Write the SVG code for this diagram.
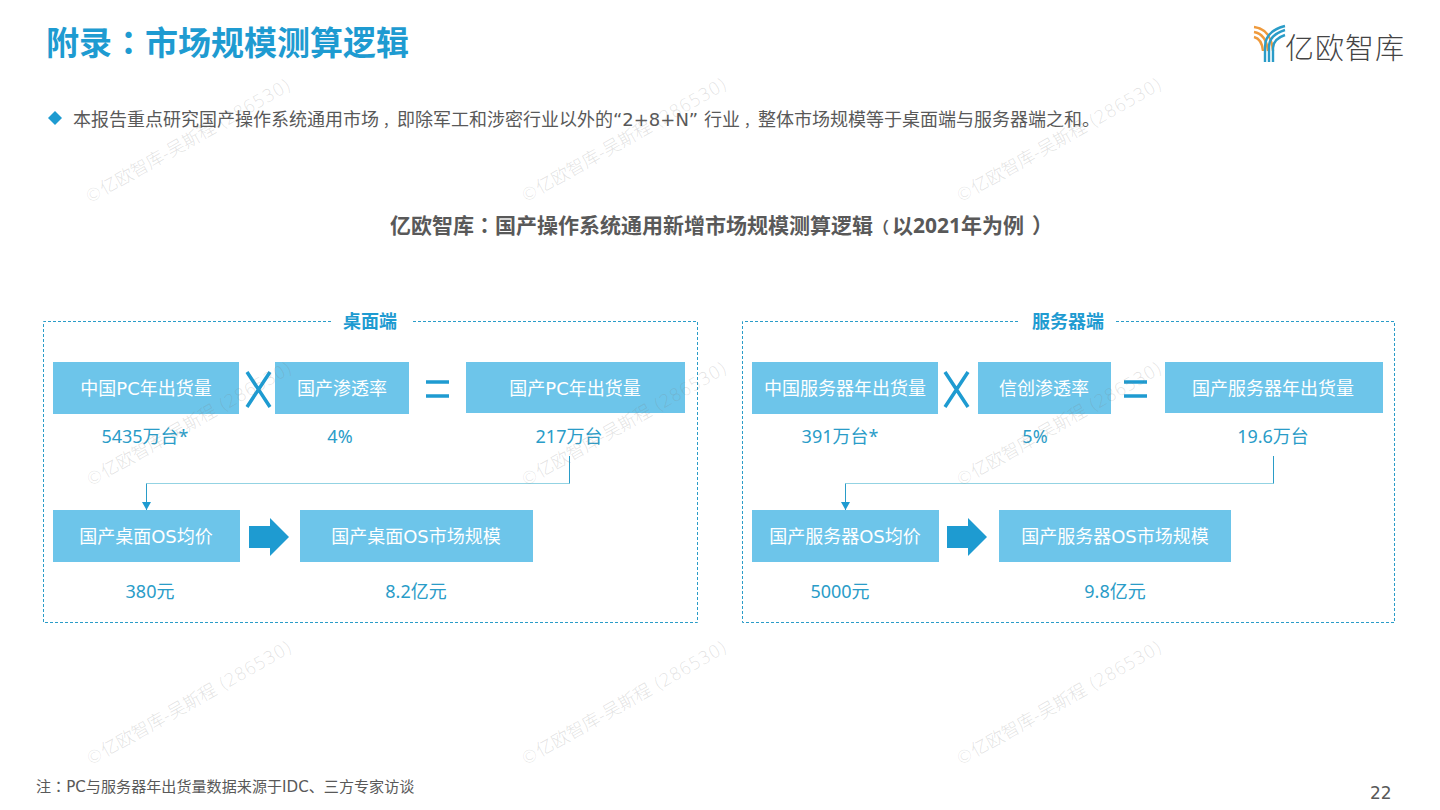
<svg xmlns="http://www.w3.org/2000/svg" width="1440" height="810" viewBox="0 0 1440 810">
<defs>
<style>
text{font-family:"DejaVu Sans","Noto Sans CJK SC",sans-serif}
.cjk{font-family:"Noto Sans CJK SC",sans-serif}
.p{font-family:"Noto Sans CJK TC",sans-serif}
.wm{font-size:17.6px;fill:#808080;fill-opacity:.23;font-weight:300}
.box{fill:#6dc5ea}
.bt{font-size:18px;fill:#fff;text-anchor:middle}
.val{font-family:"Noto Sans","Noto Sans CJK SC",sans-serif;font-size:18px;fill:#2a9cc8;text-anchor:middle}
.frame{fill:none;stroke:#2a9cc8;stroke-width:1;stroke-dasharray:3 2}
.hd{font-size:18px;font-weight:700;fill:#1e9bd1;text-anchor:middle}
.op{fill:none;stroke:#1e9bd1;stroke-width:3.5}
.conn{fill:none;stroke:#2a9cc8;stroke-width:1}
.connl{fill:none;stroke:#93d3e3;stroke-width:1}
.cm{font-size:14px}
</style>
<marker id="ah" markerWidth="9" markerHeight="10" refX="8" refY="5" orient="auto" markerUnits="userSpaceOnUse"><path d="M0 .5L8 5L0 9.500Z" fill="#1e9bd1"/></marker>
<text id="wmt" class="wm">©亿欧智库-吴斯程 (286530)</text>
</defs>
<rect width="1440" height="810" fill="#fff"/>
<text id="title" x="46" y="55" font-size="33" font-weight="700" fill="#1e9bd1">附录<tspan class="p">：</tspan>市场规模测算逻辑</text>
<g id="logo">
<path d="M1254 27q17 2 19 24M1254 32q12 2 14 19M1254 37q8 2 9 14" fill="none" stroke="#ef9a3c" stroke-width="2.4"/>
<path d="M1265 62V47q0-16 20-21M1269 62V47q0-12 16-17M1273 62V48q0-9 12-13" fill="none" stroke="#2a9cc8" stroke-width="2.400"/>
<text class="cjk" x="1285" y="59" font-size="29" font-weight="300" fill="#444" textLength="119" lengthAdjust="spacing">亿欧智库</text>
</g>
<g id="bullet">
<path d="M55 111l7 7-7 7-7-7Z" fill="#1e9bd1"/>
<text x="73" y="126" font-size="18" fill="#595959">本报告重点研究国产操作系统通用市场<tspan class="cm" dx="4">，</tspan>即除军工和涉密行业以外的“2+8+N” 行业<tspan class="cm" dx="4">，</tspan>整体市场规模等于桌面端与服务器端之和。</text>
</g>
<text id="subtitle" x="390" y="233" font-size="21" font-weight="700" fill="#595959" style="font-family:'Noto Sans','Noto Sans CJK SC',sans-serif">亿欧智库<tspan class="p">：</tspan>国产操作系统通用新增市场规模测算逻辑<tspan font-size="16">（</tspan><tspan dx="3">以2021年为例</tspan><tspan dx="8">）</tspan></text>

<g id="frames">
<path class="frame" d="M331 321.500H43.500V622.500H697.500V321.500H411"/>
<path class="frame" d="M1018 321.500H742.500V622.500H1394.500V321.500H1116"/>
<text class="hd" x="370" y="328">桌面端</text>
<text class="hd" x="1068" y="328">服务器端</text>
</g>

<g id="connectors">
<path class="connl" d="M569.500 483.500H146.500"/>
<path class="conn" d="M569.500 456V483.500M146.500 483.500V510" marker-end="url(#ah)"/>
<path class="connl" d="M1273.500 483.500H845.500"/>
<path class="conn" d="M1273.500 456V483.500M845.500 483.500V510" marker-end="url(#ah)"/>
</g>

<g id="d-shipments"><rect class="box" x="53" y="362" width="186" height="52"/><text class="bt" x="146" y="395">中国PC年出货量</text><text class="val" x="145" y="443">5435万台*</text></g>
<g id="d-times"><path class="op" d="M247 372L270 407M270 372L247 407"/></g>
<g id="d-rate"><rect class="box" x="275" y="362" width="134" height="52"/><text class="bt" x="342" y="395">国产渗透率</text><text class="val" x="340" y="443">4%</text></g>
<g id="d-eq"><path class="op" d="M426 382H449M426 396H449"/></g>
<g id="d-volume"><rect class="box" x="466" y="362" width="219" height="51"/><text class="bt" x="575" y="395">国产PC年出货量</text><text class="val" x="569" y="443">217万台</text></g>
<g id="d-price"><rect class="box" x="53" y="510" width="187" height="52"/><text class="bt" x="146" y="543">国产桌面OS均价</text><text class="val" x="150" y="598">380元</text></g>
<g id="d-arrow"><path d="M249 526H270V518L289 537L270 556V548H249Z" fill="#1e9bd1"/></g>
<g id="d-market"><rect class="box" x="300" y="510" width="233" height="52"/><text class="bt" x="416" y="543">国产桌面OS市场规模</text><text class="val" x="416" y="598">8.2亿元</text></g>

<g id="s-shipments"><rect class="box" x="752" y="362" width="186" height="52"/><text class="bt" x="845" y="395">中国服务器年出货量</text><text class="val" x="840" y="443">391万台*</text></g>
<g id="s-times"><path class="op" d="M945 372L968 407M968 372L945 407"/></g>
<g id="s-rate"><rect class="box" x="978" y="362" width="133" height="52"/><text class="bt" x="1044" y="395">信创渗透率</text><text class="val" x="1035" y="443">5%</text></g>
<g id="s-eq"><path class="op" d="M1124 382H1147M1124 396H1147"/></g>
<g id="s-volume"><rect class="box" x="1165" y="362" width="218" height="51"/><text class="bt" x="1273" y="395">国产服务器年出货量</text><text class="val" x="1273" y="443">19.6万台</text></g>
<g id="s-price"><rect class="box" x="752" y="510" width="187" height="52"/><text class="bt" x="845" y="543">国产服务器OS均价</text><text class="val" x="840" y="598">5000元</text></g>
<g id="s-arrow"><path d="M947 526H968V518L987 537L968 556V548H947Z" fill="#1e9bd1"/></g>
<g id="s-market"><rect class="box" x="999" y="510" width="232" height="52"/><text class="bt" x="1115" y="543">国产服务器OS市场规模</text><text class="val" x="1115" y="598">9.8亿元</text></g>

<text id="note" x="36" y="792" font-size="15.100" fill="#595959">注<tspan class="p">：</tspan>PC与服务器年出货量数据来源于IDC、三方专家访谈</text>
<text id="page" x="1370" y="799" font-size="17" fill="#595959">22</text>
<g id="watermarks">
<use href="#wmt" transform="translate(89 204) rotate(-29.5)"/>
<use href="#wmt" transform="translate(525 203) rotate(-29.5)"/>
<use href="#wmt" transform="translate(960 203) rotate(-29.5)"/>
<use href="#wmt" transform="translate(90 487) rotate(-29.5)"/>
<use href="#wmt" transform="translate(525 487) rotate(-29.5)"/>
<use href="#wmt" transform="translate(960 487) rotate(-29.5)"/>
<use href="#wmt" transform="translate(90 766) rotate(-29.5)"/>
<use href="#wmt" transform="translate(525 766) rotate(-29.5)"/>
<use href="#wmt" transform="translate(960 766) rotate(-29.5)"/>
</g>
</svg>
